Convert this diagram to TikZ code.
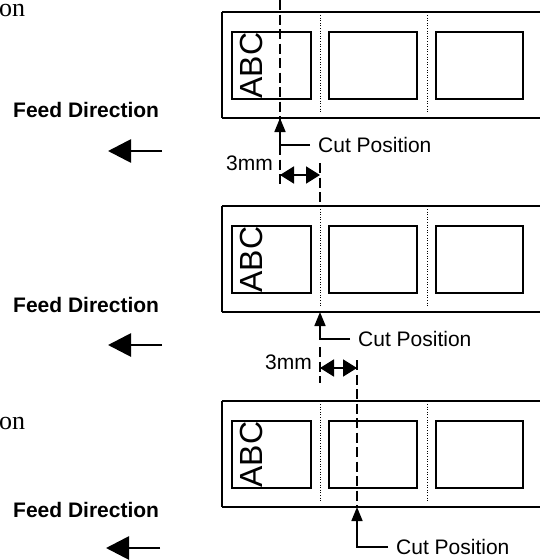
\documentclass[tikz,border=0pt]{standalone}
\usepackage{fontspec}
\setmainfont{Liberation Sans}
\newfontfamily\serifon{Liberation Serif}
\usetikzlibrary{arrows.meta}
\begin{document}
\begin{tikzpicture}[x=1pt,y=-1pt,
  lbl/.style={font=\fontsize{21}{23}\selectfont, inner sep=0pt, anchor=west},
  feedlbl/.style={font=\fontsize{21}{23}\selectfont\bfseries, inner sep=0pt, anchor=west},
  onlbl/.style={font=\fontsize{26}{28}\selectfont\serifon, inner sep=0pt, anchor=west},
  abc/.style={font=\fontsize{32}{32}\selectfont, inner sep=0pt, rotate=90},
  tape/.style={line width=1.7pt},
  frame/.style={line width=1.7pt},
  perf/.style={line width=0.9pt, dash pattern=on 1pt off 1.6pt},
  cutline/.style={line width=1.7pt, dash pattern=on 10pt off 4.5pt},
  cutarrow/.style={line width=1.7pt, -{Triangle[length=14pt,width=11pt]}},
  dimarrow/.style={line width=1.8pt, {Triangle[length=14pt,width=17pt]}-{Triangle[length=14pt,width=17pt]}},
  feedarrow/.style={line width=2.8pt, -{Triangle[length=23pt,width=23pt]}}
]
\useasboundingbox (0,0) rectangle (539,560);

% ---------- panel geometry ----------
\foreach \py/\pn in {12/1,206/2,401/3}{
  \draw[tape] (222,\py) -- (560,\py);
  \draw[tape] (222,\py+106) -- (560,\py+106);
  \draw[tape] (222,\py) -- (222,\py+106);
  \draw[frame] (232,\py+20) rectangle (311,\py+87);
  \draw[frame] (329,\py+20) rectangle (417,\py+87);
  \draw[frame] (436,\py+20) rectangle (523,\py+87);
  \draw[perf] (320,\py+3) -- (320,\py+101);
  \draw[perf] (427,\py+3) -- (427,\py+101);
  \node[abc] (abc\pn) at (251,\py+53.5) {ABC};
}

% ---------- left texts ----------
\node[onlbl] (on1) at (-1,10) {on};
\node[onlbl] (on2) at (-1,423) {on};
\node[feedlbl] (fd1) at (13,110) {Feed Direction};
\node[feedlbl] (fd2) at (13,305) {Feed Direction};
\node[feedlbl] (fd3) at (13,510) {Feed Direction};
\coordinate (fa1s) at (162,151); \coordinate (fa1e) at (108,151);
\coordinate (fa2s) at (162,345); \coordinate (fa2e) at (108,345);
\coordinate (fa3s) at (160,548); \coordinate (fa3e) at (106,548);
\draw[feedarrow] (fa1s) -- (fa1e);
\draw[feedarrow] (fa2s) -- (fa2e);
\draw[feedarrow] (fa3s) -- (fa3e);

% ---------- panel 1 cut ----------
\coordinate (c1top) at (280,0);
\coordinate (c1bot) at (280,188);
\draw[cutline] (c1top) -- (c1bot);
\coordinate (t1) at (280,118);
\node[lbl] (cp1) at (318,145) {Cut Position};
\draw[cutarrow] ([xshift=-8pt]cp1.west) -| (t1);
\coordinate (d1a) at (280,175); \coordinate (d1b) at (320,175);
\coordinate (v1top) at (320,163); \coordinate (v1bot) at (320,206);
\draw[cutline] (v1top) -- (v1bot);
\draw[dimarrow] (d1a) -- (d1b);
\node[lbl, anchor=east] (mm1) at (273,163) {3mm};

% ---------- panel 2 cut ----------
\coordinate (t2) at (320,312);
\node[lbl] (cp2) at (358,339) {Cut Position};
\draw[cutarrow] ([xshift=-8pt]cp2.west) -| (t2);
\coordinate (v2atop) at (320,347); \coordinate (v2abot) at (320,383);
\draw[cutline] (v2atop) -- (v2abot);
\coordinate (d2a) at (320,368); \coordinate (d2b) at (357,368);
\draw[dimarrow] (d2a) -- (d2b);
\node[lbl, anchor=east] (mm2) at (312,362) {3mm};

% ---------- panel 3 cut ----------
\coordinate (c3top) at (357,360);
\coordinate (c3bot) at (357,507);
\draw[cutline] (c3top) -- (c3bot);
\coordinate (t3) at (357,507);
\node[lbl] (cp3) at (396,547) {Cut Position};
\draw[cutarrow] ([xshift=-8pt]cp3.west) -| (t3);
\end{tikzpicture}
\end{document}
